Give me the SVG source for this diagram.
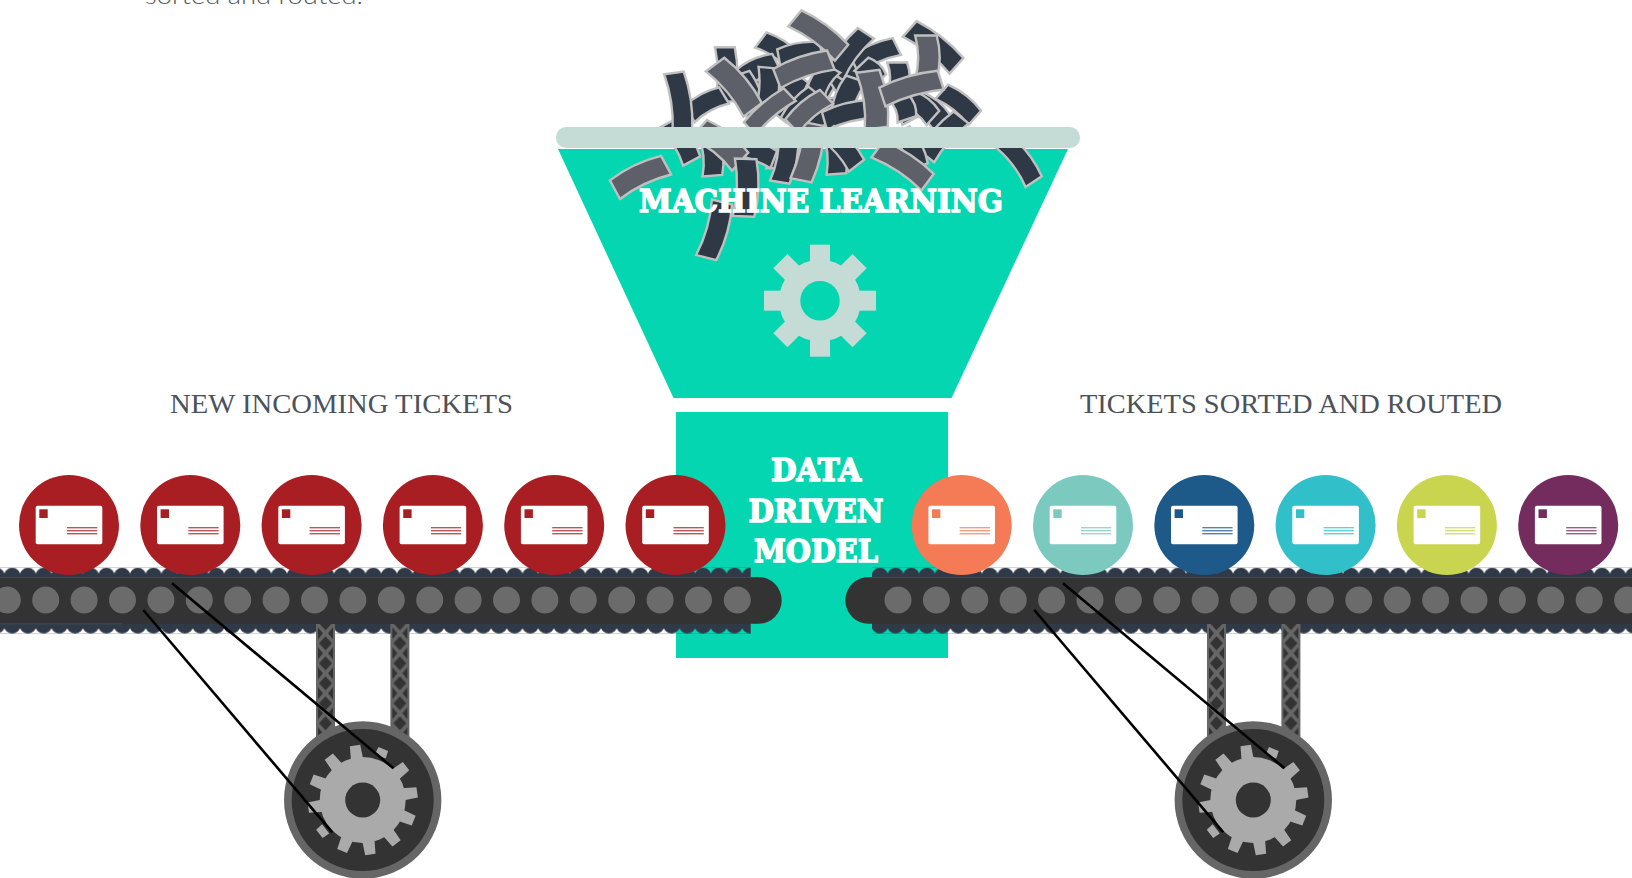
<svg xmlns="http://www.w3.org/2000/svg" width="1632" height="878" viewBox="0 0 1632 878">
<style>
.teal{fill:#03d6b0}
.rim{fill:#c4dbd6}
.s{vector-effect:non-scaling-stroke;stroke:#c0c0c0;stroke-width:2.4;stroke-linejoin:miter}
.d{fill:#2f3845}
.g{fill:#5d6068}
.head{font-family:"Liberation Serif","DejaVu Serif",serif;font-size:27px;fill:#4b525b}
.big{font-family:"DejaVu Serif","Liberation Serif",serif;font-weight:700;font-size:32px;fill:#fff;stroke:#fff;stroke-width:1.5;text-anchor:middle}
.lnk{stroke:#000;stroke-width:2.6;fill:none}
.hole{fill:#6b6b6b}
</style>
<defs>
<path id="strip" class="s" d="M-50,-25 Q0,-39 50,-25 L50,25 Q0,11 -50,25 Z"/>
<pattern id="truss" patternUnits="userSpaceOnUse" x="0" y="9.3" width="19" height="20">
<rect width="19" height="20" fill="#666"/>
<path d="M9.5,3 L16,10 L9.5,17 L3,10 Z" fill="#333"/>
<path d="M2,-6 L7,0 L2,6 Z M17,-6 L12,0 L17,6 Z M2,14 L7,20 L2,26 Z M17,14 L12,20 L17,26 Z" fill="#333"/>
</pattern>
<pattern id="scalTopL" patternUnits="userSpaceOnUse" x="4.4" y="567.7" width="15.7" height="16">
<circle cx="7.85" cy="8.2" r="8.2" fill="#2f3947"/><rect y="8" width="15.7" height="8" fill="#2f3947"/>
</pattern>
<pattern id="scalBotL" patternUnits="userSpaceOnUse" x="4.4" y="617.7" width="15.7" height="16">
<rect width="15.7" height="8" fill="#2f3947"/><circle cx="7.85" cy="7.8" r="8.2" fill="#2f3947"/>
</pattern>
<pattern id="scalTopR" patternUnits="userSpaceOnUse" x="872" y="567.7" width="15.7" height="16">
<circle cx="7.85" cy="8.2" r="8.2" fill="#2f3947"/><rect y="8" width="15.7" height="8" fill="#2f3947"/>
</pattern>
<pattern id="scalBotR" patternUnits="userSpaceOnUse" x="872" y="617.7" width="15.7" height="16">
<rect width="15.7" height="8" fill="#2f3947"/><circle cx="7.85" cy="7.8" r="8.2" fill="#2f3947"/>
</pattern>
<g id="ticket">
<circle r="50" fill="currentColor"/>
<rect x="-33.3" y="-19.3" width="66.6" height="38.6" rx="2" fill="#fff"/>
<rect x="-29.7" y="-15.7" width="8.4" height="8.7" fill="currentColor"/>
<g fill="currentColor" opacity=".75">
<rect x="-2" y="2" width="30.3" height="1.4"/>
<rect x="-2" y="5" width="30.3" height="1.4"/>
<rect x="-2" y="8" width="30.3" height="1.4"/>
</g>
</g>
<path id="tooth" d="M40,-6.2 L55,-5.2 V5.2 L40,6.2 Z" fill="#aaa"/>
<g id="wheel">
<circle r="78.7" fill="#666"/>
<circle r="71" fill="#333"/>
<circle r="43" fill="#aaa"/>
<use href="#tooth" transform="rotate(-8)"/>
<use href="#tooth" transform="rotate(-38)"/>
<path d="M47,-5.8 L55,-5.2 V5.2 L47,5.8 Z" fill="#aaa" transform="rotate(-68)"/>
<use href="#tooth" transform="rotate(-98)"/>
<use href="#tooth" transform="rotate(-128)"/>
<use href="#tooth" transform="rotate(-158)"/>
<use href="#tooth" transform="rotate(172)"/>
<path d="M47,-5.8 L55,-5.2 V5.2 L47,5.8 Z" fill="#aaa" transform="rotate(142)"/>
<use href="#tooth" transform="rotate(112)"/>
<use href="#tooth" transform="rotate(82)"/>
<use href="#tooth" transform="rotate(52)"/>
<use href="#tooth" transform="rotate(22)"/>
<circle r="17.5" fill="#333"/>
</g>
</defs>

<text id="intro" x="145" y="4" font-family="Lato,'Open Sans',sans-serif" font-weight="300" font-size="24" fill="#555" textLength="218" lengthAdjust="spacingAndGlyphs">sorted and routed.</text>

<g id="funnel">
<polygon class="teal" points="558,149 1068,149 951.5,398 673.5,398"/>
<g id="shreds" transform="translate(540,0) scale(.359,.338)">
<use href="#strip" class="d" transform="translate(600,265) rotate(-35) scale(1.2,1.4)"/>
<use href="#strip" class="d" transform="translate(700,290) rotate(-50) scale(1.3,1.4)"/>
<use href="#strip" class="d" transform="translate(790,260) rotate(-60) scale(1.3,1.4)"/>
<use href="#strip" class="d" transform="translate(870,230) rotate(-30) scale(1.2,1.4)"/>
<use href="#strip" class="d" transform="translate(800,340) rotate(-20) scale(1.3,1.4)"/>
<use href="#strip" class="d" transform="translate(1010,300) rotate(60) scale(1.2,1.4)"/>
<use href="#strip" class="d" transform="translate(1080,330) rotate(40) scale(1.1,1.3)"/>
<use href="#strip" class="d" transform="translate(700,480) rotate(10) scale(1.3,1.2)"/>
<use href="#strip" class="d" transform="translate(515,220) rotate(90) scale(1.6,1.1)"/>
<use href="#strip" class="d" transform="translate(660,150) rotate(35) scale(1.1,1.1)"/>
<use href="#strip" class="d" transform="translate(610,210) rotate(-25) scale(1.1,1.2)"/>
<use href="#strip" class="d" transform="translate(725,165) rotate(-10) scale(1.2,1.2)"/>
<use href="#strip" class="d" transform="translate(935,165) rotate(-25) scale(1.3,1.1)"/>
<use href="#strip" class="d" transform="translate(865,160) rotate(-55) scale(1.5,1.1)"/>
<use href="#strip" class="d" transform="translate(1095,140) rotate(40) scale(1.7,1.2)"/>
<use href="#strip" class="d" transform="translate(995,230) rotate(90) scale(.9,1.1)"/>
<use href="#strip" class="d" transform="translate(465,310) rotate(-30) scale(1.1,1.1)"/>
<use href="#strip" class="d" transform="translate(580,280) rotate(70) scale(1.3,1.1)"/>
<use href="#strip" class="d" transform="translate(630,270) rotate(95) scale(1.4,1.1)"/>
<use href="#strip" class="d" transform="translate(790,240) rotate(-60) scale(.9,1.1)"/>
<use href="#strip" class="d" transform="translate(920,215) rotate(45) scale(.7,1.1)"/>
<use href="#strip" class="d" transform="translate(860,290) rotate(-70) scale(1.2,1.2)"/>
<use href="#strip" class="d" transform="translate(730,320) rotate(-50) scale(1.2,1.1)"/>
<use href="#strip" class="d" transform="translate(860,340) rotate(-15) scale(1.4,1.1)"/>
<use href="#strip" class="d" transform="translate(1165,310) rotate(40) scale(1.2,1.1)"/>
<use href="#strip" class="d" transform="translate(1060,320) rotate(40) scale(.9,1.1)"/>
<use href="#strip" class="d" transform="translate(1010,320) rotate(70) scale(.7,1.1)"/>
<use href="#strip" class="d" transform="translate(1125,405) rotate(-50) scale(1.5,1.1)"/>
<use href="#strip" class="d" transform="translate(390,420) rotate(60) scale(1.3,1.1)"/>
<use href="#strip" class="d" transform="translate(475,460) rotate(85) scale(1.2,1.1)"/>
<use href="#strip" class="d" transform="translate(590,450) rotate(20) scale(1.3,1.1)"/>
<use href="#strip" class="d" transform="translate(680,470) rotate(100) scale(1.4,1.1)"/>
<use href="#strip" class="d" transform="translate(820,450) rotate(85) scale(1.3,1.1)"/>
<use href="#strip" class="d" transform="translate(840,440) rotate(50) scale(1.3,1.1)"/>
<use href="#strip" class="d" transform="translate(1030,440) rotate(65) scale(1.2,1.1)"/>
<use href="#strip" class="d" transform="translate(385,300) rotate(82) scale(1.7,1.1)"/>
<use href="#strip" class="g" transform="translate(500,430) rotate(40) scale(1.5,1.4)"/>
<use href="#strip" class="g" transform="translate(745,450) rotate(102) scale(1.7,1.2)"/>
<use href="#strip" class="g" transform="translate(1010,490) rotate(35) scale(1.7,1.2)"/>
<use href="#strip" class="g" transform="translate(775,105) rotate(38) scale(1.65,1.2)"/>
<use href="#strip" class="g" transform="translate(735,205) rotate(-20) scale(1.6,1.2)"/>
<use href="#strip" class="g" transform="translate(540,258) rotate(52) scale(1.7,1.3)"/>
<use href="#strip" class="g" transform="translate(750,330) rotate(-42) scale(1.3,1.1)"/>
<use href="#strip" class="g" transform="translate(640,330) rotate(-42) scale(1.5,1)"/>
<use href="#strip" class="g" transform="translate(1075,170) rotate(90) scale(1.3,1.2)"/>
<use href="#strip" class="g" transform="translate(925,295) rotate(82) scale(1.7,1.3)"/>
<use href="#strip" class="g" transform="translate(1035,262) rotate(-17) scale(1.7,1.16)"/>
<use href="#strip" class="g" transform="translate(280,525) rotate(-27) scale(1.6,1.24)"/>
<use href="#strip" class="d" transform="translate(1335,480) rotate(55) scale(1.4,1.1)"/>
<use href="#strip" class="d" transform="translate(485,680) rotate(105) scale(1.7,1.16)"/>
<use href="#strip" class="d" transform="translate(570,555) rotate(92) scale(1.7,1.2)"/>
</g>
<rect class="rim" x="556" y="127" width="524" height="21" rx="10"/>
<text class="big" x="821" y="212" textLength="364" lengthAdjust="spacingAndGlyphs">MACHINE LEARNING</text>
<g class="rim" transform="translate(820,300.7)">
<circle r="41"/>
<rect x="-10" y="-56" width="20" height="112"/>
<rect x="-56" y="-10" width="112" height="20"/>
<rect x="-10" y="-56" width="20" height="112" transform="rotate(45)"/>
<rect x="-56" y="-10" width="112" height="20" transform="rotate(45)"/>
<circle class="teal" r="19.7"/>
</g>
</g>

<g id="model">
<rect class="teal" x="676" y="412" width="272" height="246"/>
<text class="big" x="816" y="481" textLength="90" lengthAdjust="spacingAndGlyphs">DATA</text>
<text class="big" x="816" y="521.7" textLength="135" lengthAdjust="spacingAndGlyphs">DRIVEN</text>
<text class="big" x="816" y="562.3" textLength="124" lengthAdjust="spacingAndGlyphs">MODEL</text>
</g>

<text id="label-new" class="head" x="170" y="413" textLength="343" lengthAdjust="spacingAndGlyphs">NEW INCOMING TICKETS</text>
<text id="label-sorted" class="head" x="1080" y="413" textLength="422" lengthAdjust="spacingAndGlyphs">TICKETS SORTED AND ROUTED</text>

<g id="belt-left">
<rect x="0" y="567.7" width="750.7" height="16" fill="url(#scalTopL)"/>
<rect x="0" y="617.7" width="750.7" height="16" fill="url(#scalBotL)"/>
<rect x="-30" y="577" width="811.7" height="46.7" rx="23.3" fill="#333"/>
<rect x="0" y="577" width="755" height="1" fill="#454a50"/>
<rect x="0" y="623.4" width="122" height="1" fill="#454a50"/>
<g class="hole">
<circle cx="7.3" cy="600" r="13.5"/><circle cx="45.7" cy="600" r="13.5"/><circle cx="84.1" cy="600" r="13.5"/><circle cx="122.5" cy="600" r="13.5"/><circle cx="160.9" cy="600" r="13.5"/><circle cx="199.3" cy="600" r="13.5"/><circle cx="237.7" cy="600" r="13.5"/><circle cx="276.1" cy="600" r="13.5"/><circle cx="314.5" cy="600" r="13.5"/><circle cx="352.9" cy="600" r="13.5"/><circle cx="391.3" cy="600" r="13.5"/><circle cx="429.7" cy="600" r="13.5"/><circle cx="468.1" cy="600" r="13.5"/><circle cx="506.5" cy="600" r="13.5"/><circle cx="544.9" cy="600" r="13.5"/><circle cx="583.3" cy="600" r="13.5"/><circle cx="621.7" cy="600" r="13.5"/><circle cx="660.1" cy="600" r="13.5"/><circle cx="698.5" cy="600" r="13.5"/><circle cx="737.3" cy="600" r="13.5"/>
</g>
</g>
<g id="belt-right">
<rect x="872" y="567.7" width="760" height="16" fill="url(#scalTopR)"/>
<rect x="872" y="617.7" width="760" height="16" fill="url(#scalBotR)"/>
<rect x="845.3" y="577" width="820" height="46.7" rx="23.3" fill="#333"/>
<rect x="870" y="577" width="762" height="1" fill="#454a50"/>
<g class="hole">
<circle cx="898" cy="600" r="13.5"/><circle cx="936.4" cy="600" r="13.5"/><circle cx="974.8" cy="600" r="13.5"/><circle cx="1013.2" cy="600" r="13.5"/><circle cx="1051.6" cy="600" r="13.5"/><circle cx="1090" cy="600" r="13.5"/><circle cx="1128.4" cy="600" r="13.5"/><circle cx="1166.8" cy="600" r="13.5"/><circle cx="1205.2" cy="600" r="13.5"/><circle cx="1243.6" cy="600" r="13.5"/><circle cx="1282" cy="600" r="13.5"/><circle cx="1320.4" cy="600" r="13.5"/><circle cx="1358.8" cy="600" r="13.5"/><circle cx="1397.2" cy="600" r="13.5"/><circle cx="1435.6" cy="600" r="13.5"/><circle cx="1474" cy="600" r="13.5"/><circle cx="1512.4" cy="600" r="13.5"/><circle cx="1550.8" cy="600" r="13.5"/><circle cx="1589.2" cy="600" r="13.5"/><circle cx="1627.6" cy="600" r="13.5"/>
</g>
</g>

<g id="strut-l1" transform="translate(316,624)"><rect width="19" height="125" fill="url(#truss)"/></g>
<g id="strut-l2" transform="translate(390.4,624)"><rect width="19" height="125" fill="url(#truss)"/></g>
<g id="strut-r1" transform="translate(1207,624)"><rect width="19" height="125" fill="url(#truss)"/></g>
<g id="strut-r2" transform="translate(1281.4,624)"><rect width="19" height="125" fill="url(#truss)"/></g>
<g id="wheel-left" transform="translate(362.7,800)"><use href="#wheel"/></g>
<g id="wheel-right" transform="translate(1253.3,800)"><use href="#wheel"/></g>

<g id="ticket-1" color="#a81e23" transform="translate(69,525)"><use href="#ticket"/></g>
<g id="ticket-2" color="#a81e23" transform="translate(190.3,525)"><use href="#ticket"/></g>
<g id="ticket-3" color="#a81e23" transform="translate(311.6,525)"><use href="#ticket"/></g>
<g id="ticket-4" color="#a81e23" transform="translate(432.9,525)"><use href="#ticket"/></g>
<g id="ticket-5" color="#a81e23" transform="translate(554.2,525)"><use href="#ticket"/></g>
<g id="ticket-6" color="#a81e23" transform="translate(675.5,525)"><use href="#ticket"/></g>
<g id="ticket-7" color="#f47b55" transform="translate(961.7,525)"><use href="#ticket"/></g>
<g id="ticket-8" color="#7bc9bf" transform="translate(1083,525)"><use href="#ticket"/></g>
<g id="ticket-9" color="#1d5a8a" transform="translate(1204.3,525)"><use href="#ticket"/></g>
<g id="ticket-10" color="#31bfca" transform="translate(1325.6,525)"><use href="#ticket"/></g>
<g id="ticket-11" color="#c9d44f" transform="translate(1446.9,525)"><use href="#ticket"/></g>
<g id="ticket-12" color="#742c5f" transform="translate(1568.2,525)"><use href="#ticket"/></g>

<g id="connectors">
<line class="lnk" x1="172" y1="583.3" x2="393.5" y2="768.3"/>
<line class="lnk" x1="143.3" y1="610" x2="332.3" y2="832.3"/>
<line class="lnk" x1="1063" y1="583.3" x2="1284.5" y2="768.3"/>
<line class="lnk" x1="1034.3" y1="610" x2="1223.3" y2="832.3"/>
</g>
</svg>
